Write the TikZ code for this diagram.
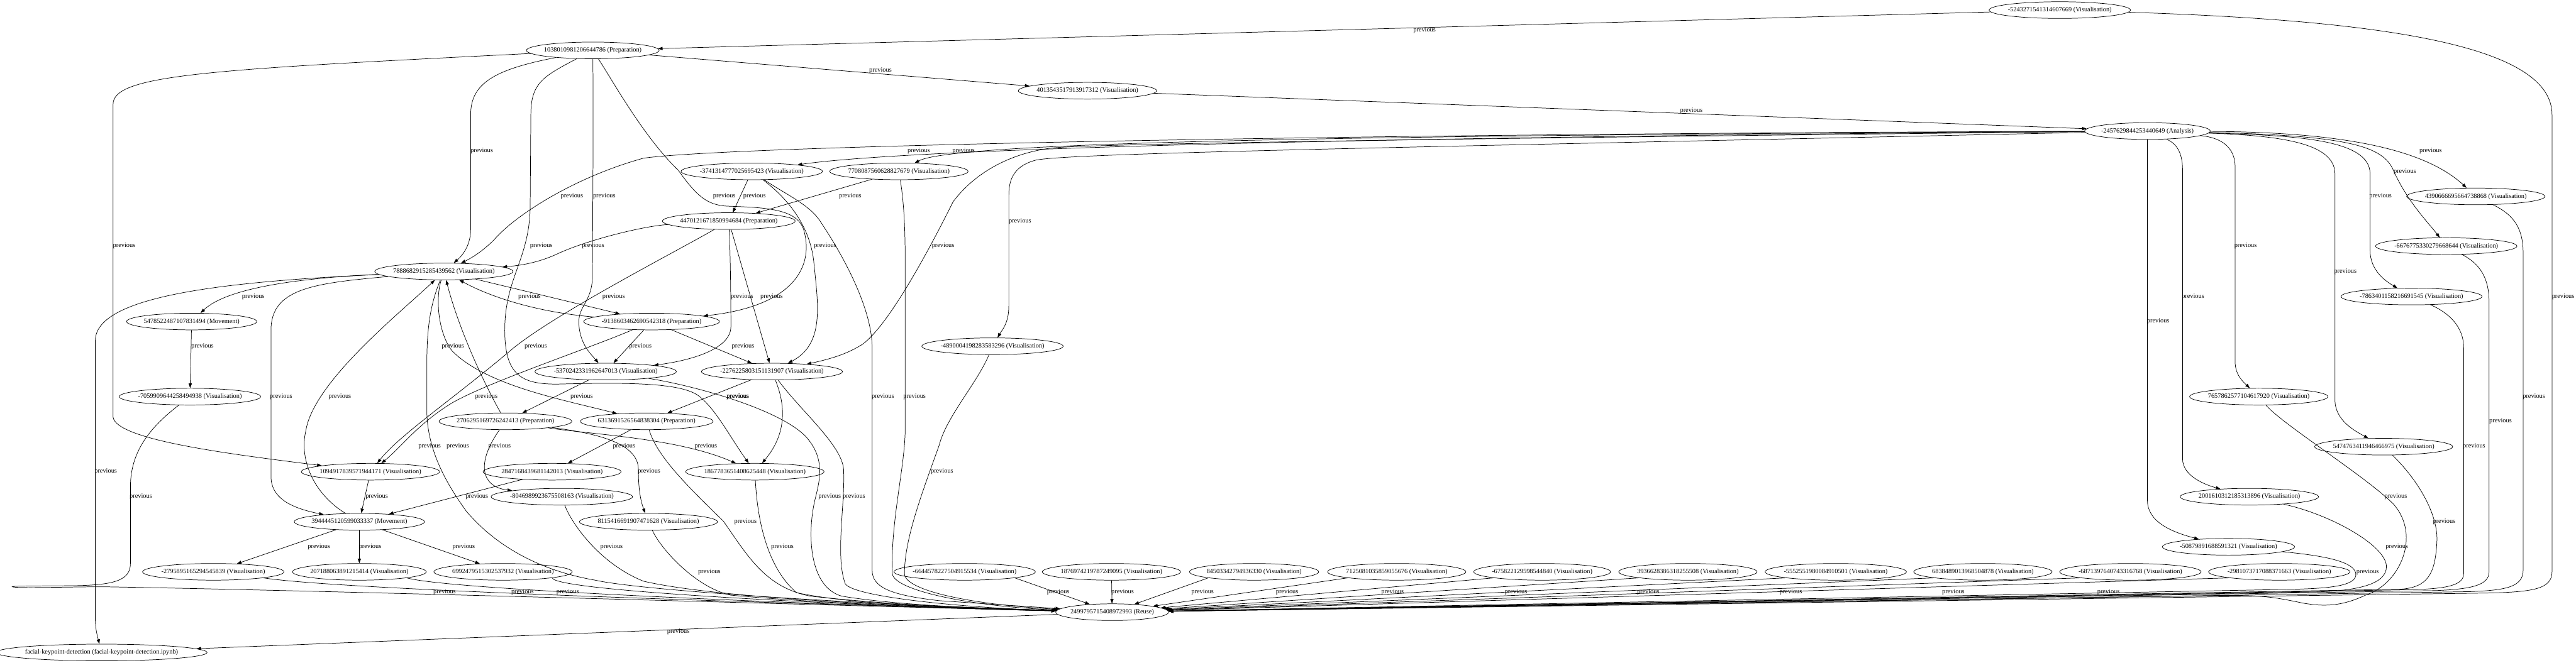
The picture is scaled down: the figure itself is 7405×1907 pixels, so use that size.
\documentclass[tikz,border=0pt]{standalone}
\usepackage{fontspec}
\setmainfont{Liberation Serif}
\usetikzlibrary{arrows.meta,shapes.geometric}

\begin{document}
\begin{tikzpicture}[x=0.75pt, y=-0.75pt, >={Triangle[length=10pt,width=7pt]}, line width=1pt,
    cell/.style={draw, ellipse, inner xsep=-4pt, inner ysep=0pt, minimum height=36pt, font=\fontsize{14}{16}\selectfont},
    prev/.style={->},
    lbl/.style={inner sep=0pt, font=\fontsize{14}{16}\selectfont}]
\useasboundingbox (0,0) rectangle (7405,1907);

% cells
\node[cell] (n5243) at (5921,29) {-5243271541314607669 (Visualisation)};
\node[cell] (n1038) at (1704,145) {1038010981206644786 (Preparation)};
\node[cell] (n4013) at (3126,261) {4013543517913917312 (Visualisation)};
\node[cell] (nAna) at (6173,377) {-2457629844253440649 (Analysis)};
\node[cell] (n3741) at (2161,493) {-3741314777025695423 (Visualisation)};
\node[cell] (n7708) at (2584,493) {7708087560628827679 (Visualisation)};
\node[cell] (n4390) at (7117,565) {4390666695664738868 (Visualisation)};
\node[cell] (n4470) at (2095,636) {4470121671850994684 (Preparation)};
\node[cell] (n6676) at (7032,708) {-6676775330279668644 (Visualisation)};
\node[cell] (n7888) at (1276,781) {7888682915285439562 (Visualisation)};
\node[cell] (n7863) at (6932,853) {-7863401158216691545 (Visualisation)};
\node[cell] (n5478) at (551,925) {5478522487107831494 (Movement)};
\node[cell] (n9138) at (1873,925) {-9138603462690542318 (Preparation)};
\node[cell] (n4890) at (2853,996) {-4890004198283583296 (Visualisation)};
\node[cell] (n5370) at (1741,1069) {-5370242331962647013 (Visualisation)};
\node[cell] (n2276) at (2219,1069) {-2276225803151131907 (Visualisation)};
\node[cell] (n7059) at (546,1141) {-7059909644258494938 (Visualisation)};
\node[cell] (n7657) at (6493,1141) {7657862577104617920 (Visualisation)};
\node[cell] (n2706) at (1453,1212) {2706295169726242413 (Preparation)};
\node[cell] (n6313) at (1859,1212) {6313691526564838304 (Preparation)};
\node[cell] (n5474) at (6852,1285) {5474763411946466975 (Visualisation)};
\node[cell] (n1094) at (1065,1357) {1094917839571944171 (Visualisation)};
\node[cell] (n2847) at (1587,1357) {2847168439681142013 (Visualisation)};
\node[cell] (n1867) at (2170,1357) {1867783651408625448 (Visualisation)};
\node[cell] (n8046) at (1615,1429) {-8046989923675508163 (Visualisation)};
\node[cell] (n2001) at (6466,1429) {2001610312185313896 (Visualisation)};
\node[cell] (n3944) at (1033,1501) {3944445120599033337 (Movement)};
\node[cell] (n8115) at (1864,1501) {8115416691907471628 (Visualisation)};
\node[cell] (n5087) at (6406,1573) {-50879891688591321 (Visualisation)};
\node[cell] (n2795) at (613,1645) {-2795895165294545839 (Visualisation)};
\node[cell] (n2071) at (1033,1645) {207188063891215414 (Visualisation)};
\node[cell] (n6992) at (1446,1645) {6992479515302537932 (Visualisation)};
\node[cell] (n6644) at (2773,1645) {-6644578227504915534 (Visualisation)};
\node[cell] (n1876) at (3195,1645) {1876974219787249095 (Visualisation)};
\node[cell] (n8450) at (3605,1645) {84503342794936330 (Visualisation)};
\node[cell] (n7125) at (4015,1645) {7125081035859055676 (Visualisation)};
\node[cell] (n6758) at (4433,1645) {-675822129598544840 (Visualisation)};
\node[cell] (n3936) at (4852,1645) {3936628386318255508 (Visualisation)};
\node[cell] (n5552) at (5277,1645) {-5552551980084910501 (Visualisation)};
\node[cell] (n6838) at (5700,1645) {6838489013968504878 (Visualisation)};
\node[cell] (n6871) at (6124,1645) {-6871397640743316768 (Visualisation)};
\node[cell] (n2981) at (6552,1645) {-2981073717088371663 (Visualisation)};
\node[cell] (nReuse) at (3197,1761) {2499795715408972993 (Reuse)};
\node[cell] (nfacial) at (292,1877) {facial-keypoint-detection (facial-keypoint-detection.ipynb)};

% top chain
\draw[prev] (n5243) -- (n1038) node[lbl] at (4095,87) {previous};
\draw[prev] (n5243) .. controls (6900,60) and (7336,140) .. (7336,330) -- (7336,1645) .. controls (7336,1695) and (7280,1703) .. (7150,1706) -- (nReuse) node[lbl] at (7368,853) {previous};
\draw[prev] (n1038) -- (n4013) node[lbl] at (2531,203) {previous};
\draw[prev] (n4013) -- (nAna) node[lbl] at (4862,319) {previous};

% out of 1038
\draw[prev] (n1038) .. controls (600,200) and (325,215) .. (325,300) -- (325,1200) .. controls (335,1265) and (650,1305) .. (n1094) node[lbl] at (357,708) {previous};
\draw[prev] (n1038) .. controls (1420,200) and (1353,240) .. (1353,330) -- (1353,660) .. controls (1353,700) and (1335,730) .. (n7888) node[lbl] at (1385,435) {previous};
\draw[prev] (n1038) .. controls (1560,220) and (1526,240) .. (1526,330) -- (1524,600) .. controls (1520,750) and (1451,800) .. (1451,950) .. controls (1451,1080) and (1500,1105) .. (1600,1105) .. controls (1800,1100) and (1960,1100) .. (2010,1140) .. controls (2060,1180) and (2100,1260) .. (n1867) node[lbl] at (1556,708) {previous};
\draw[prev] (n1038) .. controls (1705,250) and (1705,300) .. (1705,400) -- (1703,800) .. controls (1700,870) and (1662,880) .. (1664,930) .. controls (1666,990) and (1700,1020) .. (n5370) node[lbl] at (1737,565) {previous};
\draw[prev] (n1038) .. controls (1760,230) and (1850,394) .. (1950,490) .. controls (2000,560) and (2030,590) .. (2090,593) .. controls (2200,597) and (2290,600) .. (2310,660) .. controls (2340,760) and (2290,880) .. (n9138) node[lbl] at (2082,565) {previous};

% out of analysis, to the left
\draw[prev] (nAna) .. controls (3800,395) and (2600,430) .. (n3741) node[lbl] at (2641,435) {previous};
\draw[prev] (nAna) .. controls (3800,390) and (2740,410) .. (n7708) node[lbl] at (2770,435) {previous};
\draw[prev] (nAna) .. controls (3800,385) and (2100,420) .. (1850,455) .. controls (1650,510) and (1480,620) .. (1420,690) .. controls (1390,720) and (1360,740) .. (n7888) node[lbl] at (1644,565) {previous};
\draw[prev] (nAna) .. controls (4000,400) and (3150,415) .. (3030,425) .. controls (2900,440) and (2800,500) .. (2740,580) .. controls (2680,700) and (2560,930) .. (2480,990) .. controls (2440,1015) and (2400,1030) .. (n2276) node[lbl] at (2711,708) {previous};
\draw[prev] (nAna) .. controls (4000,425) and (3100,440) .. (2980,460) .. controls (2920,475) and (2900,510) .. (2900,560) -- (2900,880) .. controls (2900,930) and (2880,950) .. (n4890) node[lbl] at (2932,636) {previous};

% out of analysis, to the right
\draw[prev] (nAna) .. controls (6700,380) and (6960,420) .. (n4390) node[lbl] at (6987,435) {previous};
\draw[prev] (nAna) .. controls (6750,390) and (6850,420) .. (6880,490) .. controls (6920,580) and (6980,640) .. (n6676) node[lbl] at (6913,493) {previous};
\draw[prev] (nAna) .. controls (6600,390) and (6813,400) .. (6813,500) -- (6813,720) .. controls (6813,780) and (6860,810) .. (n7863) node[lbl] at (6843,565) {previous};
\draw[prev] (nAna) .. controls (6550,390) and (6712,410) .. (6712,500) -- (6712,1150) .. controls (6712,1210) and (6770,1240) .. (n5474) node[lbl] at (6742,781) {previous};
\draw[prev] (nAna) .. controls (6380,395) and (6425,420) .. (6425,480) -- (6425,1040) .. controls (6425,1080) and (6450,1100) .. (n7657) node[lbl] at (6455,708) {previous};
\draw[prev] (nAna) .. controls (6250,410) and (6274,430) .. (6274,490) -- (6274,1320) .. controls (6274,1370) and (6340,1395) .. (n2001) node[lbl] at (6304,853) {previous};
\draw[prev] (nAna) -- (6173,1440) .. controls (6173,1500) and (6240,1530) .. (n5087) node[lbl] at (6204,925) {previous};

% right side into reuse
\draw[prev] (n4390) .. controls (7230,620) and (7253,660) .. (7253,730) -- (7253,1640) .. controls (7253,1690) and (7200,1698) .. (7100,1702) -- (nReuse) node[lbl] at (7284,1141) {previous};
\draw[prev] (n6676) .. controls (7130,760) and (7155,800) .. (7155,870) -- (7155,1645) .. controls (7155,1685) and (7100,1695) .. (7000,1699) -- (nReuse) node[lbl] at (7188,1212) {previous};
\draw[prev] (n7863) .. controls (7040,900) and (7082,940) .. (7082,1000) -- (7082,1650) .. controls (7082,1685) and (7030,1692) .. (6950,1696) -- (nReuse) node[lbl] at (7112,1284) {previous};
\draw[prev] (n5474) .. controls (6950,1380) and (7010,1480) .. (7005,1560) .. controls (7000,1650) and (6980,1690) .. (6900,1695) -- (nReuse) node[lbl] at (7026,1501) {previous};
\draw[prev] (n7657) .. controls (6560,1220) and (6800,1370) .. (6880,1450) .. controls (6960,1540) and (6900,1680) .. (6800,1712) .. controls (6730,1745) and (6680,1745) .. (6620,1735) .. controls (6540,1718) and (6500,1712) .. (6400,1713) -- (nReuse) node[lbl] at (6887,1429) {previous};
\draw[prev] (n2001) .. controls (6700,1480) and (6860,1570) .. (6860,1630) .. controls (6860,1680) and (6780,1700) .. (6650,1703) -- (nReuse) node[lbl] at (6890,1573) {previous};
\draw[prev] (n5087) .. controls (6700,1600) and (6775,1620) .. (6772,1655) .. controls (6768,1685) and (6700,1692) .. (6600,1695) -- (nReuse) node[lbl] at (6806,1645) {previous};
\draw[prev] (n2981.south west) -- (nReuse) node[lbl] at (6061,1703) {previous};
\draw[prev] (n6871.south west) -- (nReuse) node[lbl] at (5615,1703) {previous};
\draw[prev] (n6838.south west) -- (nReuse) node[lbl] at (5148,1703) {previous};
\draw[prev] (n5552.south west) -- (nReuse) node[lbl] at (4738,1703) {previous};
\draw[prev] (n3936.south west) -- (nReuse) node[lbl] at (4358,1703) {previous};
\draw[prev] (n6758.south west) -- (nReuse) node[lbl] at (4003,1703) {previous};
\draw[prev] (n7125.south west) -- (nReuse) node[lbl] at (3700,1703) {previous};
\draw[prev] (n8450.south west) -- (nReuse) node[lbl] at (3457,1703) {previous};
\draw[prev] (n1876) -- (nReuse) node[lbl] at (3227,1703) {previous};
\draw[prev] (n6644.south east) -- (nReuse) node[lbl] at (3042,1703) {previous};

% left side into reuse
\draw[prev] (n7059) .. controls (430,1230) and (375,1300) .. (375,1400) -- (375,1620) .. controls (375,1670) and (330,1684) .. (200,1685) .. controls (60,1686) and (20,1686) .. (40,1689) .. controls (80,1692) and (200,1688) .. (300,1688) .. controls (1000,1700) and (2500,1745) .. (nReuse) node[lbl] at (405,1429) {previous};
\draw[prev] (n2795.south east) .. controls (1000,1700) and (2400,1740) .. (nReuse) node[lbl] at (1278,1703) {previous};
\draw[prev] (n2071.south east) .. controls (1300,1700) and (2500,1745) .. (nReuse) node[lbl] at (1502,1703) {previous};
\draw[prev] (n6992.south east) .. controls (1600,1705) and (2600,1748) .. (nReuse) node[lbl] at (1632,1703) {previous};
\draw[prev] (n7888) .. controls (1235,880) and (1227,950) .. (1227,1050) -- (1227,1180) .. controls (1227,1300) and (1290,1400) .. (1340,1470) .. controls (1450,1600) and (1600,1650) .. (1711,1669) .. controls (1850,1700) and (2500,1740) .. (nReuse) node[lbl] at (1316,1284) {previous};
\draw[prev] (n8046) .. controls (1640,1500) and (1720,1620) .. (1850,1672) .. controls (2100,1730) and (2800,1750) .. (nReuse) node[lbl] at (1758,1573) {previous};
\draw[prev] (n8115) .. controls (1900,1580) and (2000,1690) .. (2100,1712) .. controls (2400,1740) and (2800,1750) .. (nReuse) node[lbl] at (2039,1645) {previous};
\draw[prev] (n1867) .. controls (2175,1450) and (2190,1620) .. (2290,1705) .. controls (2450,1740) and (2800,1752) .. (nReuse) node[lbl] at (2249,1573) {previous};
\draw[prev] (n6313) .. controls (1890,1320) and (2000,1420) .. (2080,1500) .. controls (2150,1600) and (2200,1690) .. (2330,1715) .. controls (2600,1745) and (2900,1752) .. (nReuse) node[lbl] at (2143,1500) {previous};
\draw[prev] (n5370) .. controls (2000,1110) and (2250,1180) .. (2320,1260) .. controls (2380,1330) and (2350,1400) .. (2340,1450) .. controls (2320,1550) and (2330,1690) .. (2420,1715) .. controls (2600,1745) and (2900,1752) .. (nReuse) node[lbl] at (2385,1429) {previous};
\draw[prev] (n2276) .. controls (2300,1180) and (2420,1280) .. (2425,1350) .. controls (2430,1450) and (2400,1600) .. (2430,1680) .. controls (2460,1720) and (2800,1750) .. (nReuse) node[lbl] at (2455,1429) {previous};
\draw[prev] (n3741) .. controls (2260,560) and (2330,590) .. (2360,640) .. controls (2440,760) and (2507,900) .. (2507,1000) -- (2507,1640) .. controls (2507,1690) and (2560,1712) .. (2700,1728) -- (nReuse) node[lbl] at (2538,1141) {previous};
\draw[prev] (n7708) .. controls (2598,580) and (2602,650) .. (2602,750) -- (2602,1240) .. controls (2600,1350) and (2560,1500) .. (2565,1650) .. controls (2570,1700) and (2800,1745) .. (nReuse) node[lbl] at (2629,1141) {previous};
\draw[prev] (n4890) .. controls (2810,1100) and (2720,1200) .. (2700,1280) .. controls (2650,1420) and (2600,1550) .. (2600,1650) .. controls (2600,1700) and (2800,1740) .. (nReuse) node[lbl] at (2708,1357) {previous};
\draw[prev] (nReuse) -- (nfacial) node[lbl] at (1950,1818) {previous};

% middle cluster
\draw[prev] (n3741) -- (n4470) node[lbl] at (2169,565) {previous};
\draw[prev] (n7708) -- (n4470) node[lbl] at (2444,565) {previous};
\draw[prev] (n3741) .. controls (2250,560) and (2330,640) .. (2340,760) .. controls (2352,880) and (2370,990) .. (n2276) node[lbl] at (2372,708) {previous};
\draw[prev] (n4470) .. controls (1850,650) and (1690,690) .. (1605,729) .. controls (1540,760) and (1480,765) .. (n7888) node[lbl] at (1705,708) {previous};
\draw[prev] (n4470) -- (n2276) node[lbl] at (2218,853) {previous};
\draw[prev] (n4470) .. controls (2098,700) and (2101,800) .. (2101,940) .. controls (2101,1000) and (2000,1035) .. (n5370) node[lbl] at (2136,996) {previous};
\draw[prev] (n4470) .. controls (1950,720) and (1600,900) .. (1475,1002) .. controls (1300,1150) and (1150,1250) .. (n1094) node[lbl] at (1540,996) {previous};
\draw[prev] (n7888) .. controls (850,800) and (650,830) .. (n5478) node[lbl] at (728,853) {previous};
\draw[prev] (n7888) .. controls (650,810) and (274,850) .. (274,980) -- (274,1780) .. controls (274,1810) and (280,1830) .. (nfacial) node[lbl] at (304,1357) {previous};
\draw[prev] (n7888) .. controls (900,815) and (779,830) .. (779,950) -- (779,1370) .. controls (779,1430) and (830,1460) .. (n3944) node[lbl] at (808,1141) {previous};
\draw[prev] (n7888) -- (n9138) node[lbl] at (1764,853) {previous};
\draw[prev] (n7888) .. controls (1251,860) and (1260,960) .. (1300,1010) .. controls (1400,1110) and (1620,1150) .. (n6313) node[lbl] at (1302,996) {previous};
\draw[prev] (n9138) .. controls (1560,900) and (1420,860) .. (n7888) node[lbl] at (1522,853) {previous};
\draw[prev] (n9138) -- (n5370) node[lbl] at (1841,996) {previous};
\draw[prev] (n9138) -- (n2276) node[lbl] at (2133,853) {previous};
\draw[prev] (n9138) .. controls (1700,1000) and (1400,1100) .. (1298,1160) .. controls (1200,1220) and (1150,1290) .. (n1094) node[lbl] at (1235,1284) {previous};
\draw[prev] (n5370) -- (n2706) node[lbl] at (1672,1141) {previous};
\draw[prev] (n2276) -- (n6313) node[lbl] at (2121,1141) {previous};
\draw[prev] (n2276) .. controls (2260,1170) and (2260,1250) .. (n1867) node[lbl] at (2121,1141) {previous};
\draw[prev] (n2706) .. controls (1390,1100) and (1320,950) .. (n7888) node[lbl] at (1398,1141) {previous};
\draw[prev] (n2706) .. controls (1370,1330) and (1380,1400) .. (n8046) node[lbl] at (1436,1284) {previous};
\draw[prev] (n2706) .. controls (1700,1250) and (1950,1260) .. (n1867) node[lbl] at (2029,1284) {previous};
\draw[prev] (n2706) .. controls (1700,1245) and (1835,1270) .. (1835,1350) .. controls (1835,1420) and (1845,1450) .. (n8115) node[lbl] at (1866,1357) {previous};
\draw[prev] (n6313) -- (n2847) node[lbl] at (1794,1284) {previous};
\draw[prev] (n1094) -- (n3944) node[lbl] at (1083,1429) {previous};
\draw[prev] (n2847) -- (n3944) node[lbl] at (1371,1429) {previous};
\draw[prev] (n3944) -- (n2795) node[lbl] at (917,1573) {previous};
\draw[prev] (n3944) -- (n2071) node[lbl] at (1064,1573) {previous};
\draw[prev] (n3944) -- (n6992) node[lbl] at (1333,1573) {previous};
\draw[prev] (n3944) .. controls (900,1420) and (860,1320) .. (879,1240) .. controls (900,1100) and (1150,900) .. (n7888) node[lbl] at (977,1141) {previous};
\draw[prev] (n5478) -- (n7059) node[lbl] at (582,996) {previous};
\end{tikzpicture}
\end{document}
